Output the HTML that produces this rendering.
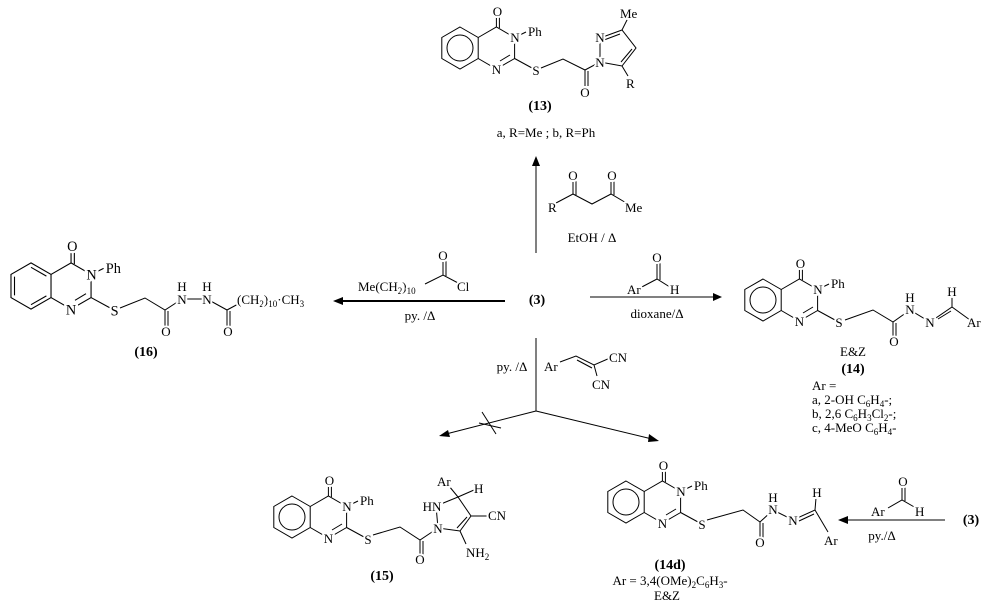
<!DOCTYPE html>
<html><head><meta charset="utf-8"><style>
html,body{margin:0;padding:0;background:#fff;}
svg{display:block;}
text{font-family:"Liberation Serif",serif;font-size:13px;fill:#000;}
.l text{stroke:#fff;stroke-width:4px;paint-order:stroke;stroke-linejoin:round;}
.b{font-weight:bold;font-size:14px;}
line,polyline,polygon.s,circle,path{stroke:#000;stroke-width:1;fill:none;}
.sub{font-size:9px;}
</style></head><body>
<svg width="993" height="608" viewBox="0 0 993 608" xmlns="http://www.w3.org/2000/svg">

<!-- core (13) -->
<g class="l" transform="translate(460,48)">
<polygon class="s" points="0,-21 18.2,-10.5 18.2,10.5 0,21 -18.2,10.5 -18.2,-10.5"/><circle r="13"/>
<polyline points="18.2,-10.5 36.4,-21 54.6,-10.5 54.6,10.5 36.4,21 18.2,10.5"/>
<line x1="50" y1="7" x2="40" y2="13"/><line x1="36.4" y1="-21" x2="36.4" y2="-32"/><line x1="39.4" y1="-20" x2="39.4" y2="-32"/>
<line x1="54.6" y1="-10.5" x2="66" y2="-16"/><line x1="54.6" y1="10.5" x2="72" y2="20"/>
<text x="37.5" y="-32" text-anchor="middle">O</text><text x="55" y="-6" text-anchor="middle">N</text><text x="36.4" y="26" text-anchor="middle">N</text><text x="68" y="-12">Ph</text><text x="76" y="27" text-anchor="middle">S</text>
</g>
<g class="l">
<polyline points="541,68 563,59 585,70 600,62"/><line x1="585" y1="70" x2="585" y2="86"/><line x1="588" y1="71" x2="588" y2="86"/>
<polyline points="600,62 600,38 622,30 636,48 622,66 600,62"/><line x1="604" y1="40" x2="620" y2="34"/><line x1="632" y1="49" x2="621" y2="62"/>
<line x1="622" y1="30" x2="628" y2="18"/><line x1="622" y1="66" x2="628" y2="76"/>
<text x="585" y="97" text-anchor="middle">O</text><text x="600" y="67" text-anchor="middle">N</text><text x="600" y="42" text-anchor="middle">N</text>
<text x="620" y="18">Me</text><text x="626" y="88">R</text>
</g>
<text class="b" x="540" y="110" text-anchor="middle">(13)</text>
<text x="546" y="137" text-anchor="middle">a, R=Me ; b, R=Ph</text>

<!-- core (16) -->
<g class="l" transform="translate(31,286) scale(1.1)">
<polygon class="s" points="0,-21 18.2,-10.5 18.2,10.5 0,21 -18.2,10.5 -18.2,-10.5"/>
<polyline points="18.2,-10.5 36.4,-21 54.6,-10.5 54.6,10.5 36.4,21 18.2,10.5"/>
<line x1="-15" y1="-8.5" x2="-15" y2="8.5"/><line x1="0" y1="-17" x2="14" y2="-9"/><line x1="0" y1="17" x2="14" y2="9"/>
<line x1="50" y1="7" x2="40" y2="13"/><line x1="36.4" y1="-21" x2="36.4" y2="-32"/><line x1="39.4" y1="-20" x2="39.4" y2="-32"/>
<line x1="54.6" y1="-10.5" x2="66" y2="-16"/><line x1="54.6" y1="10.5" x2="72" y2="20"/>
<text x="37.5" y="-32" text-anchor="middle">O</text><text x="55" y="-6" text-anchor="middle">N</text><text x="36.4" y="26" text-anchor="middle">N</text><text x="68" y="-12">Ph</text><text x="76" y="27" text-anchor="middle">S</text>
</g>
<g class="l">
<polyline points="120,308 145,298 165,310 182,299"/><line x1="165" y1="310" x2="165" y2="326"/><line x1="168" y1="311" x2="168" y2="326"/>
<line x1="182" y1="299" x2="207" y2="299"/><polyline points="207,299 227,310 240,303"/><line x1="227" y1="310" x2="227" y2="326"/><line x1="230" y1="311" x2="230" y2="326"/>
<text x="166" y="336" text-anchor="middle">O</text><text x="228" y="336" text-anchor="middle">O</text>
<text x="182" y="304" text-anchor="middle">N</text><text x="182" y="291" text-anchor="middle">H</text>
<text x="207" y="304" text-anchor="middle">N</text><text x="207" y="291" text-anchor="middle">H</text>
<text x="237" y="304">(CH<tspan class="sub" dy="3">2</tspan><tspan dy="-3">)</tspan><tspan class="sub" dy="3">10</tspan><tspan dy="-3">·CH</tspan><tspan class="sub" dy="3">3</tspan></text>
</g>
<text class="b" x="146" y="356" text-anchor="middle">(16)</text>

<!-- core (14) -->
<g class="l" transform="translate(763,300)">
<polygon class="s" points="0,-21 18.2,-10.5 18.2,10.5 0,21 -18.2,10.5 -18.2,-10.5"/><circle r="13"/>
<polyline points="18.2,-10.5 36.4,-21 54.6,-10.5 54.6,10.5 36.4,21 18.2,10.5"/>
<line x1="50" y1="7" x2="40" y2="13"/><line x1="36.4" y1="-21" x2="36.4" y2="-32"/><line x1="39.4" y1="-20" x2="39.4" y2="-32"/>
<line x1="54.6" y1="-10.5" x2="66" y2="-16"/><line x1="54.6" y1="10.5" x2="72" y2="20"/>
<text x="37.5" y="-32" text-anchor="middle">O</text><text x="55" y="-6" text-anchor="middle">N</text><text x="36.4" y="26" text-anchor="middle">N</text><text x="68" y="-12">Ph</text><text x="76" y="27" text-anchor="middle">S</text>
</g>
<g class="l">
<polyline points="845,320 873,310 893,322 910,310 930,322 952,307 970,320"/><line x1="893" y1="322" x2="893" y2="338"/><line x1="896" y1="323" x2="896" y2="338"/>
<line x1="938" y1="319" x2="951" y2="311"/><line x1="952" y1="307" x2="952" y2="296"/>
<text x="894" y="346" text-anchor="middle">O</text><text x="910" y="314" text-anchor="middle">N</text><text x="910" y="302" text-anchor="middle">H</text>
<text x="930" y="327" text-anchor="middle">N</text><text x="952" y="296" text-anchor="middle">H</text><text x="967" y="327">Ar</text>
</g>
<text x="853" y="356" text-anchor="middle">E&amp;Z</text>
<text class="b" x="853" y="373" text-anchor="middle">(14)</text>
<text x="812" y="390">Ar =</text>
<text x="812" y="404">a, 2-OH C<tspan class="sub" dy="3">6</tspan><tspan dy="-3">H</tspan><tspan class="sub" dy="3">4</tspan><tspan dy="-3">-;</tspan></text>
<text x="812" y="418">b, 2,6 C<tspan class="sub" dy="3">6</tspan><tspan dy="-3">H</tspan><tspan class="sub" dy="3">3</tspan><tspan dy="-3">Cl</tspan><tspan class="sub" dy="3">2</tspan><tspan dy="-3">-;</tspan></text>
<text x="812" y="432">c, 4-MeO C<tspan class="sub" dy="3">6</tspan><tspan dy="-3">H</tspan><tspan class="sub" dy="3">4</tspan><tspan dy="-3">-</tspan></text>

<!-- core (15) -->
<g class="l" transform="translate(292,517)">
<polygon class="s" points="0,-21 18.2,-10.5 18.2,10.5 0,21 -18.2,10.5 -18.2,-10.5"/><circle r="13"/>
<polyline points="18.2,-10.5 36.4,-21 54.6,-10.5 54.6,10.5 36.4,21 18.2,10.5"/>
<line x1="50" y1="7" x2="40" y2="13"/><line x1="36.4" y1="-21" x2="36.4" y2="-32"/><line x1="39.4" y1="-20" x2="39.4" y2="-32"/>
<line x1="54.6" y1="-10.5" x2="66" y2="-16"/><line x1="54.6" y1="10.5" x2="72" y2="20"/>
<text x="37.5" y="-32" text-anchor="middle">O</text><text x="55" y="-6" text-anchor="middle">N</text><text x="36.4" y="26" text-anchor="middle">N</text><text x="68" y="-12">Ph</text><text x="76" y="27" text-anchor="middle">S</text>
</g>
<g class="l">
<polyline points="373,535 400,527 420,540 438,528"/><line x1="420" y1="540" x2="420" y2="555"/><line x1="423" y1="541" x2="423" y2="555"/>
<polyline points="438,528 436,506 458,497 471,516 460,531 438,528"/><line x1="467" y1="517" x2="457" y2="528"/>
<line x1="458" y1="497" x2="449" y2="486"/><line x1="458" y1="497" x2="474" y2="490"/><line x1="471" y1="516" x2="488" y2="516"/><line x1="460" y1="531" x2="466" y2="544"/>
<text x="420" y="564" text-anchor="middle">O</text><text x="438" y="533" text-anchor="middle">N</text><text x="432" y="511" text-anchor="middle">HN</text>
<text x="437" y="486">Ar</text><text x="474" y="493">H</text><text x="488" y="520">CN</text>
<text x="466" y="557">NH<tspan class="sub" dy="3">2</tspan></text>
</g>
<text class="b" x="382" y="580" text-anchor="middle">(15)</text>

<!-- core (14d) -->
<g class="l" transform="translate(626,502)">
<polygon class="s" points="0,-21 18.2,-10.5 18.2,10.5 0,21 -18.2,10.5 -18.2,-10.5"/><circle r="13"/>
<polyline points="18.2,-10.5 36.4,-21 54.6,-10.5 54.6,10.5 36.4,21 18.2,10.5"/>
<line x1="50" y1="7" x2="40" y2="13"/><line x1="36.4" y1="-21" x2="36.4" y2="-32"/><line x1="39.4" y1="-20" x2="39.4" y2="-32"/>
<line x1="54.6" y1="-10.5" x2="66" y2="-16"/><line x1="54.6" y1="10.5" x2="72" y2="20"/>
<text x="37.5" y="-32" text-anchor="middle">O</text><text x="55" y="-6" text-anchor="middle">N</text><text x="36.4" y="26" text-anchor="middle">N</text><text x="68" y="-12">Ph</text><text x="76" y="27" text-anchor="middle">S</text>
</g>
<g class="l">
<polyline points="707,520 743,510 760,522 773,510 793,520 815,510 828,532"/><line x1="760" y1="522" x2="760" y2="538"/><line x1="763" y1="523" x2="763" y2="538"/>
<line x1="799" y1="521" x2="814" y2="514"/><line x1="815" y1="510" x2="816" y2="498"/>
<text x="760" y="547" text-anchor="middle">O</text><text x="773" y="514" text-anchor="middle">N</text><text x="773" y="502" text-anchor="middle">H</text>
<text x="793" y="525" text-anchor="middle">N</text><text x="817" y="497" text-anchor="middle">H</text><text x="824" y="545">Ar</text>
</g>
<text class="b" x="670" y="569" text-anchor="middle">(14d)</text>
<text x="670" y="585" text-anchor="middle">Ar = 3,4(OMe)<tspan class="sub" dy="3">2</tspan><tspan dy="-3">C</tspan><tspan class="sub" dy="3">6</tspan><tspan dy="-3">H</tspan><tspan class="sub" dy="3">3</tspan><tspan dy="-3">-</tspan></text>
<text x="667" y="600" text-anchor="middle">E&amp;Z</text>

<!-- arrows -->
<line x1="536" y1="253" x2="536" y2="162"/><polygon points="536,156 532,166 540,166" fill="#000"/>
<line x1="505" y1="301" x2="340" y2="301" style="stroke-width:2"/><polygon points="333,301 343,297 343,305" fill="#000"/>
<line x1="590" y1="297" x2="716" y2="297"/><polygon points="722,297 713,293 713,301" fill="#000"/>
<text class="b" x="537" y="304" text-anchor="middle">(3)</text>
<line x1="536" y1="338" x2="536" y2="411"/>
<line x1="536" y1="411" x2="446" y2="434"/><polygon points="439,436 448,430 450,437" fill="#000"/>
<line x1="536" y1="411" x2="652" y2="439"/><polygon points="659,441 649,434 648,442" fill="#000"/>
<line x1="482" y1="412" x2="496" y2="434"/><line x1="479" y1="423" x2="501" y2="428"/>
<line x1="945" y1="520" x2="845" y2="520"/><polygon points="838,520 848,516 848,524" fill="#000"/>
<text class="b" x="971" y="524" text-anchor="middle">(3)</text>

<!-- reagents -->
<g class="l">
<polyline points="556,203 573,194 592,204 611,194 628,204"/><line x1="573" y1="194" x2="573" y2="180"/><line x1="576" y1="195" x2="576" y2="180"/><line x1="611" y1="194" x2="611" y2="180"/><line x1="614" y1="195" x2="614" y2="180"/>
<text x="573" y="180" text-anchor="middle">O</text><text x="612" y="180" text-anchor="middle">O</text><text x="548" y="212">R</text><text x="625" y="212">Me</text>
</g>
<text x="592" y="242" text-anchor="middle">EtOH / Δ</text>
<g class="l">
<polyline points="425,284 443,275 460,284"/><line x1="443" y1="275" x2="443" y2="260"/><line x1="446" y1="276" x2="446" y2="260"/>
<text x="443" y="260" text-anchor="middle">O</text><text x="457" y="291">Cl</text>
<text x="358" y="291">Me(CH<tspan class="sub" dy="3">2</tspan><tspan dy="-3">)</tspan><tspan class="sub" dy="3">10</tspan></text>
</g>
<text x="420" y="320" text-anchor="middle">py. /Δ</text>
<g class="l">
<polyline points="638,289 657,279 673,289"/><line x1="657" y1="279" x2="657" y2="262"/><line x1="660" y1="280" x2="660" y2="262"/>
<text x="657" y="262" text-anchor="middle">O</text><text x="627" y="294">Ar</text><text x="670" y="294">H</text>
</g>
<text x="657" y="318" text-anchor="middle">dioxane/Δ</text>
<text x="512" y="371" text-anchor="middle">py. /Δ</text>
<g class="l">
<polyline points="560,362 576,356 594,365 610,358"/><line x1="577" y1="360" x2="592" y2="368"/><line x1="594" y1="365" x2="597" y2="376"/>
<text x="544" y="371">Ar</text><text x="609" y="362">CN</text><text x="592" y="389">CN</text>
</g>
<g class="l">
<polyline points="888,508 902,500 916,508"/><line x1="902" y1="500" x2="902" y2="486"/><line x1="905" y1="501" x2="905" y2="486"/>
<text x="903" y="486" text-anchor="middle">O</text><text x="871" y="516">Ar</text><text x="915" y="516">H</text>
</g>
<text x="882" y="540" text-anchor="middle">py./Δ</text>
</svg>
</body></html>
